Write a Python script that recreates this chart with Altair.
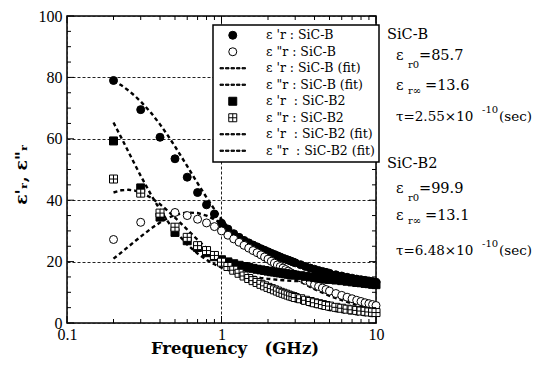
import altair as alt
import pandas as pd

# ---------------- data ----------------
freq = [0.2, 0.3, 0.4, 0.5, 0.6, 0.7, 0.8, 0.9, 1.0, 1.1, 1.2, 1.3, 1.4, 1.5, 1.6, 1.7,
        1.8, 1.9, 2.0, 2.1, 2.2, 2.3, 2.4, 2.5, 2.6, 2.7, 2.8, 2.9, 3.0, 3.25, 3.5, 3.75,
        4.0, 4.25, 4.5, 4.75, 5.0, 5.5, 6.0, 6.5, 7.0, 7.5, 8.0, 8.5, 9.0, 9.5, 10.0]

b_eps1 = [79.0, 69.5, 60.5, 53.5, 47.5, 42.5, 38.5, 35.5, 32.5, 30.6, 29.1, 27.9, 26.9, 26.1,
          25.4, 24.8, 24.2, 23.7, 23.2, 22.7, 22.3, 21.9, 21.5, 21.1, 20.8, 20.5, 20.2, 19.9,
          19.6, 19.0, 18.4, 17.9, 17.5, 17.1, 16.8, 16.5, 16.2, 15.7, 15.3, 14.9, 14.6, 14.3,
          14.1, 13.9, 13.7, 13.5, 13.3]
b_eps2 = [27.2, 32.8, 35.5, 36.0, 35.0, 33.8, 32.6, 31.4, 30.0, 28.6, 27.4, 26.3, 25.3, 24.4,
          23.6, 22.9, 22.2, 21.5, 20.8, 20.1, 19.5, 18.9, 18.4, 17.9, 17.4, 16.9, 16.4, 16.0,
          15.6, 14.7, 13.9, 13.2, 12.5, 11.9, 11.4, 10.9, 10.4, 9.6, 9.0, 8.4, 7.9, 7.4,
          7.0, 6.6, 6.3, 6.0, 5.7]
b2_eps1 = [59.3, 44.0, 34.5, 29.5, 26.8, 24.6, 22.9, 21.6, 20.6, 19.9, 19.3, 18.8, 18.4, 18.1,
           17.8, 17.5, 17.3, 17.1, 16.9, 16.7, 16.6, 16.4, 16.3, 16.2, 16.0, 15.9, 15.8, 15.7,
           15.6, 15.4, 15.2, 15.0, 14.8, 14.6, 14.5, 14.3, 14.2, 14.0, 13.8, 13.6, 13.4, 13.2,
           13.1, 12.9, 12.8, 12.6, 12.5]
b2_eps2 = [46.9, 42.3, 35.8, 31.2, 27.9, 25.2, 23.6, 22.0, 19.8, 18.4, 17.2, 16.2, 15.3, 14.5,
           13.8, 13.2, 12.6, 12.1, 11.6, 11.2, 10.8, 10.4, 10.0, 9.7, 9.4, 9.1, 8.8, 8.6,
           8.3, 7.9, 7.4, 7.0, 6.6, 6.3, 6.0, 5.7, 5.5, 5.1, 4.8, 4.5, 4.3, 4.1,
           3.9, 3.8, 3.6, 3.5, 3.4]

fit_freq = [0.2, 0.225, 0.25, 0.275, 0.3, 0.35, 0.4, 0.45, 0.5, 0.6, 0.7, 0.8, 0.9, 1.0,
            1.2, 1.4, 1.6, 1.8, 2.0, 2.5, 3.0, 4.0, 5.0, 6.0, 7.0, 8.0, 9.0, 10.0]
b_fit1 = [78.99, 77.41, 75.73, 73.98, 72.17, 68.45, 64.71, 61.04, 57.52, 51.07, 45.53, 40.88,
          37.01, 33.81, 28.95, 25.55, 23.12, 21.34, 20.00, 17.83, 16.59, 15.31, 14.71, 14.37,
          14.17, 14.04, 13.95, 13.88]
b_fit2 = [20.95, 23.00, 24.89, 26.60, 28.15, 30.76, 32.75, 34.20, 35.18, 36.02, 35.81, 34.97,
          33.76, 32.39, 29.52, 26.81, 24.41, 22.32, 20.50, 16.94, 14.38, 10.98, 8.86, 7.42,
          6.38, 5.59, 4.98, 4.48]
b2_fit1 = [65.29, 60.29, 55.73, 51.62, 47.93, 41.74, 36.87, 33.02, 29.97, 25.56, 22.61, 20.58,
           19.12, 18.04, 16.59, 15.69, 15.10, 14.69, 14.39, 13.93, 13.68, 13.43, 13.31, 13.25,
           13.21, 13.18, 13.16, 13.15]
b2_fit2 = [42.50, 43.23, 43.39, 43.12, 42.55, 40.81, 38.70, 36.50, 34.35, 30.43, 27.12, 24.35,
           22.05, 20.11, 17.05, 14.77, 13.02, 11.63, 10.50, 8.45, 7.06, 5.31, 4.25, 3.55,
           3.04, 2.66, 2.37, 2.13]

labels = ["ε 'r : SiC-B", "ε \"r : SiC-B", "ε 'r : SiC-B (fit)", "ε \"r : SiC-B (fit)",
          "ε 'r\u00a0 : SiC-B2", "ε \"r : SiC-B2", "ε 'r\u00a0 : SiC-B2 (fit)",
          "ε \"r\u00a0 : SiC-B2 (fit)"]

x_major = [0.1, 1, 10]
x_minor = [0.2, 0.3, 0.4, 0.5, 0.6, 0.7, 0.8, 0.9, 2, 3, 4, 5, 6, 7, 8, 9]
y_major = [0, 20, 40, 60, 80, 100]
y_minor = [5, 10, 15, 25, 30, 35, 45, 50, 55, 65, 70, 75, 85, 90, 95]

# ---------------- tables ----------------
pts = pd.concat([
    pd.DataFrame({"f": freq, "v": vals, "label": lab})
    for vals, lab in [(b_eps1, labels[0]), (b_eps2, labels[1]),
                      (b2_eps1, labels[4]), (b2_eps2, labels[5])]
], ignore_index=True)
fits = pd.concat([
    pd.DataFrame({"f": fit_freq, "v": vals, "label": lab})
    for vals, lab in [(b_fit1, labels[2]), (b_fit2, labels[3]),
                      (b2_fit1, labels[6]), (b2_fit2, labels[7])]
], ignore_index=True)

# ---------------- styling ----------------
W, H = 309, 307
OX, OY = 67, 16          # plot origin on the page
SVG_W, SVG_H = 524, 350  # whole drawing must fit inside the page margins

DASH = ("M-3.19,-0.15H-2.315V0.15H-3.19Z M-1.815,-0.15H-0.94V0.15H-1.815Z "
        "M-0.44,-0.15H0.435V0.15H-0.44Z M0.935,-0.15H1.81V0.15H0.935Z "
        "M2.31,-0.15H3.185V0.15H2.31Z")
HATCH = "M-1,-1H1V1H-1Z M0,-1V1 M-1,0H1"

shape_range = ["circle", "circle", DASH, DASH, "square", HATCH, DASH, DASH]
fill_range = ["black", "white", "black", "black", "black", "white", "black", "black"]
stroke_range = ["black"] * 8

legend = alt.Legend(title=None, orient="none", legendX=146, legendY=9,
                    fillColor="white", strokeColor="black",
                    padding=4, labelFont="DejaVu Serif", labelFontSize=12.5,
                    labelColor="black", symbolOffset=9.5, labelOffset=27,
                    rowPadding=3.5, symbolStrokeWidth=1, symbolSize=64,
                    labelLimit=300)

xs = alt.Scale(type="log", domain=[0.1, 10], nice=False)
ys = alt.Scale(domain=[0, 100], nice=False, zero=False)

xaxis = alt.Axis(values=x_major, format="~g", ticks=False, domain=False, grid=True,
                 gridDash=[3, 2], gridColor="#222", gridWidth=1,
                 labelFont="Liberation Serif", labelFontSize=16, labelColor="black",
                 labelPadding=3, labelFlush=False,
                 title="Frequency\u00a0\u00a0\u00a0(GHz)", titleFont="DejaVu Serif",
                 titleFontWeight="bold", titleFontSize=16.5, titleColor="black",
                 titleX=167.5, titleY=30.5, titleAlign="center", titleBaseline="alphabetic")
yaxis = alt.Axis(values=y_major, ticks=False, domain=False, grid=True,
                 gridDash=[3, 2], gridColor="#222", gridWidth=1,
                 labelFont="Liberation Serif", labelFontSize=16, labelColor="black",
                 labelPadding=5,
                 title="ε'ᵣ, ε\"ᵣ", titleFont="DejaVu Serif", titleFontWeight="bold",
                 titleFontSize=17, titleColor="black", titleAngle=270,
                 titleX=-46, titleY=158, titleAlign="center", titleBaseline="middle")

xenc = alt.X("f:Q", scale=xs, axis=xaxis)
yenc = alt.Y("v:Q", scale=ys, axis=yaxis)

fit_layer = alt.Chart(fits).mark_line(strokeDash=[4, 3], strokeWidth=2.4, color="black").encode(
    x=xenc, y=yenc, detail="label:N")

pt_layer = alt.Chart(pts).mark_point(size=64, opacity=1, strokeWidth=1).encode(
    x=xenc, y=yenc,
    shape=alt.Shape("label:N", scale=alt.Scale(domain=labels, range=shape_range), legend=legend),
    fill=alt.Fill("label:N", scale=alt.Scale(domain=labels, range=fill_range), legend=legend),
    stroke=alt.Stroke("label:N", scale=alt.Scale(domain=labels, range=stroke_range), legend=legend),
)

layers = [fit_layer, pt_layer]

# inward ticks on all four sides
for vals, L in [(x_major, 7), (x_minor, 4)]:
    d = pd.DataFrame({"f": vals})
    layers.append(alt.Chart(d).mark_rule(color="black", strokeWidth=1).encode(
        x=xenc, y=alt.value(H), y2=alt.value(H - L)))
    layers.append(alt.Chart(d).mark_rule(color="black", strokeWidth=1).encode(
        x=xenc, y=alt.value(0), y2=alt.value(L)))
for vals, L in [(y_major, 7), (y_minor, 4)]:
    d = pd.DataFrame({"v": vals})
    layers.append(alt.Chart(d).mark_rule(color="black", strokeWidth=1).encode(
        y=yenc, x=alt.value(0), x2=alt.value(L)))
    layers.append(alt.Chart(d).mark_rule(color="black", strokeWidth=1).encode(
        y=yenc, x=alt.value(W), x2=alt.value(W - L)))

# side annotation (text, page x, page baseline y, font size)
notes = [
    ("SiC-B", 387, 38.5, 14.5),
    ("ε", 396, 59.5, 14.5), ("r0", 408, 67.5, 10), ("=85.7", 419, 59.5, 14.5),
    ("ε", 396, 89.5, 14.5), ("r∞", 408, 93.5, 10), ("=13.6", 425, 89.5, 14.5),
    ("τ=2.55×10", 396, 120.5, 13.5), ("-10", 482, 112.5, 10), ("(sec)", 499, 120.5, 13.5),
    ("SiC-B2", 387, 168, 14.5),
    ("ε", 396, 192.5, 14.5), ("r0", 408, 200.5, 10), ("=99.9", 419, 192.5, 14.5),
    ("ε", 396, 220, 14.5), ("r∞", 408, 224, 10), ("=13.1", 425, 220, 14.5),
    ("τ=6.48×10", 396, 255, 13.5), ("-10", 482, 247, 10), ("(sec)", 499, 255, 13.5),
]
for txt, px, py, fs in notes:
    layers.append(alt.Chart(alt.Data(values=[{"t": txt}])).mark_text(
        align="left", baseline="alphabetic", font="DejaVu Serif", fontSize=fs, color="black"
    ).encode(text="t:N", x=alt.value(px - OX), y=alt.value(py - OY)))

chart = alt.layer(*layers).properties(
    width=W, height=H,
    padding={"left": OX - 8, "top": OY - 8,
             "right": SVG_W - (OX - 8) - W, "bottom": SVG_H - (OY - 8) - H},
    autosize=alt.AutoSizeParams(type="none"),
).configure(background="white").configure_view(
    stroke="black", strokeWidth=1.5
).configure_legend(strokeWidth=1.5, cornerRadius=0)

chart.save("out.html", embed_options={"renderer": "svg", "actions": False})
